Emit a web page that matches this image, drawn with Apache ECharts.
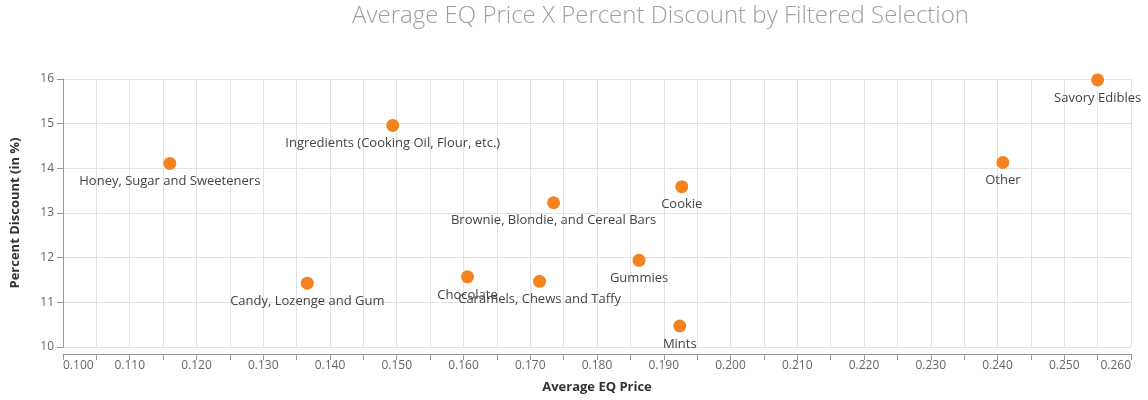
<!DOCTYPE html>
<html>
<head>
<meta charset="utf-8">
<script src="https://cdn.jsdelivr.net/npm/echarts@6/dist/echarts.min.js"></script>
<style>
html,body{margin:0;padding:0;background:#fff;}
#chart{width:1148px;height:400px;}
</style>
</head>
<body>
<div id="chart"></div>
<script>
const categories = [
  "Honey, Sugar and Sweeteners",
  "Ingredients (Cooking Oil, Flour, etc.)",
  "Candy, Lozenge and Gum",
  "Brownie, Blondie, and Cereal Bars",
  "Cookie",
  "Gummies",
  "Chocolate",
  "Caramels, Chews and Taffy",
  "Mints",
  "Other",
  "Savory Edibles"
];
const avgPrice =    [0.1160, 0.1494, 0.1366, 0.1735, 0.1927, 0.1863, 0.1606, 0.1714, 0.1924, 0.2408, 0.2550];
const pctDiscount = [14.11, 14.96, 11.43, 13.23, 13.59, 11.94, 11.57, 11.47, 10.47, 14.13, 15.98];
const xTicks = { min: 0.100, max: 0.260, step: 0.005 };
const yTicks = { min: 10, max: 16, step: 1 };

const data = categories.map((c, i) => ({ name: c, value: [avgPrice[i], pctDiscount[i]] }));
const font = "'Open Sans', 'Noto Sans', sans-serif";

const chart = echarts.init(document.getElementById('chart'), null, { renderer: 'canvas' });
chart.setOption({
  animation: false,
  textStyle: { fontFamily: font },
  title: {
    text: 'Average EQ Price X Percent Discount by Filtered Selection',
    left: 347, top: -1,
    textStyle: { fontFamily: font, fontSize: 24, fontWeight: 300, color: '#a0a0a0' }
  },
  grid: { left: 63, right: 17, top: 79, bottom: 53, containLabel: false },
  xAxis: {
    type: 'value',
    min: xTicks.min, max: xTicks.max, interval: xTicks.step,
    offset: 7,
    name: 'Average EQ Price',
    nameLocation: 'middle', nameGap: 27,
    nameTextStyle: { fontFamily: font, fontSize: 13, fontWeight: 'bold', color: '#333' },
    axisLine: { show: true, lineStyle: { color: '#999', width: 1 } },
    axisTick: { show: true, length: 6, lineStyle: { color: '#999' } },
    axisLabel: {
      fontFamily: font, fontSize: 12, color: '#666', margin: 6,
      alignMinLabel: 'left', alignMaxLabel: 'right',
      formatter: v => (Math.round(v * 1000) % 10 === 0 ? v.toFixed(3) : '')
    },
    splitLine: { show: true, lineStyle: { color: '#e2e2e2', width: 1 } }
  },
  yAxis: {
    type: 'value',
    min: yTicks.min, max: yTicks.max, interval: yTicks.step,
    name: 'Percent Discount (in %)',
    nameLocation: 'middle', nameGap: 41, nameRotate: 90,
    nameTextStyle: { fontFamily: font, fontSize: 13, fontWeight: 'bold', color: '#333' },
    axisLine: { show: true, lineStyle: { color: '#999', width: 1 } },
    axisTick: { show: true, length: 6, lineStyle: { color: '#999' } },
    axisLabel: { fontFamily: font, fontSize: 12, color: '#666', margin: 9 },
    splitLine: { show: true, lineStyle: { color: '#e2e2e2', width: 1 } }
  },
  series: [{
    type: 'scatter',
    data: data,
    symbolSize: 13,
    itemStyle: { color: '#F58220', opacity: 1 },
    label: {
      show: true, position: 'bottom', distance: 5,
      formatter: p => p.name,
      fontFamily: font, fontSize: 13, color: '#444'
    }
  }]
});
</script>
</body>
</html>
